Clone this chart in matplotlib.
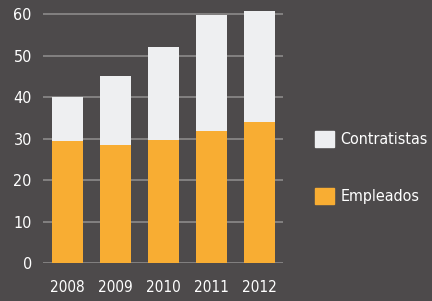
import numpy as np
import matplotlib.pyplot as plt
from matplotlib.patches import Patch

plt.rcParams['font.family'] = ['DejaVu Sans']
plt.rcParams['font.stretch'] = 'condensed'

years = ['2008', '2009', '2010', '2011', '2012']
empleados = [29.4, 28.4, 29.6, 31.8, 34.0]
contratistas = [10.6, 16.6, 22.4, 27.9, 26.8]

bg = '#4d4a4b'
orange = '#f8ad33'
light = '#eeeff1'
grid = '#8c8a8a'

fig = plt.figure(figsize=(4.32, 3.01), dpi=100, facecolor=bg)
ax = fig.add_axes([0.0995, 0.126, 0.5555, 0.855])
ax.set_facecolor(bg)

x = np.arange(len(years))
ax.bar(x, empleados, width=0.65, color=orange, zorder=3)
ax.bar(x, contratistas, width=0.65, bottom=empleados, color=light, zorder=3)

ax.set_xlim(-0.51, 4.49)
ax.set_ylim(0, 62)
ax.set_yticks(range(0, 61, 10))
ax.set_xticks(x)
ax.set_xticklabels(years)
ax.grid(axis='y', color=grid, linewidth=1.2, zorder=0)
for s in ax.spines.values():
    s.set_visible(False)
ax.tick_params(axis='y', length=0, pad=8, labelsize=11.5, labelcolor='white')
ax.tick_params(axis='x', length=0, pad=12, labelsize=11, labelcolor='white')

handles = [Patch(color=light, label='Contratistas'), Patch(color=orange, label='Empleados')]
fig.legend(handles=handles, loc='center left', bbox_to_anchor=(0.697, 0.443),
           frameon=False, fontsize=11.5, labelcolor='white',
           handlelength=1.15, handleheight=1.15, handletextpad=0.4, labelspacing=2.55)

plt.savefig('out.png', facecolor=bg)
